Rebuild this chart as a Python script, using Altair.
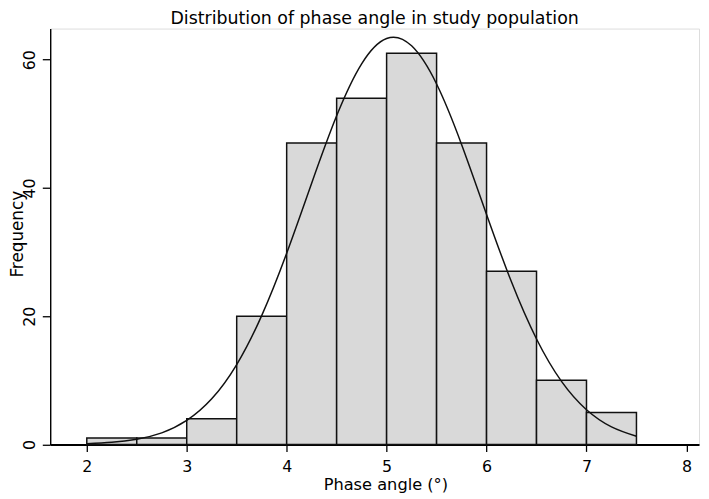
import altair as alt
import pandas as pd

# Histogram data (bin edges of width 0.5)
bin_start = [2.0, 2.5, 3.0, 3.5, 4.0, 4.5, 5.0, 5.5, 6.0, 6.5, 7.0]
bin_end = [2.5, 3.0, 3.5, 4.0, 4.5, 5.0, 5.5, 6.0, 6.5, 7.0, 7.5]
counts = [1, 1, 4, 20, 47, 54, 61, 47, 27, 10, 5]

# Overlaid normal curve
curve_x = [2.0, 2.25, 2.5, 2.75, 3.0, 3.25, 3.5, 3.75, 4.0, 4.25, 4.5, 4.75,
           5.0, 5.25, 5.5, 5.75, 6.0, 6.25, 6.5, 6.75, 7.0, 7.25, 7.5]
curve_y = [0.13, 0.33, 0.81, 1.81, 3.75, 7.12, 12.46, 20.09, 29.82, 40.74, 51.25, 59.36,
           63.31, 62.16, 56.21, 46.79, 35.87, 25.32, 16.45, 9.84, 5.42, 2.75, 1.28]

x_ticks = [2, 3, 4, 5, 6, 7, 8]
y_ticks = [0, 20, 40, 60]

title_text = "Distribution of phase angle in study population"
x_title = "Phase angle (°)"
y_title = "Frequency"

hist_df = pd.DataFrame({"start": bin_start, "end": bin_end, "count": counts})
curve_df = pd.DataFrame({"x": curve_x, "y": curve_y})
title_df = pd.DataFrame({"t": [title_text]})

FONT = "DejaVu Sans"
W = 656.3
H = 420.7

x_scale = alt.Scale(domain=[1.634, 8.126], nice=False, zero=False)
y_scale = alt.Scale(domain=[0, 64.85], nice=False, zero=True)

x_axis = alt.Axis(values=x_ticks, format="d", title=x_title, grid=False, tickSize=7,
                  labelPadding=7.2, labelFontSize=16, labelFont=FONT,
                  labelBaseline="top", labelColor="black", tickColor="black",
                  domainColor="black", domainWidth=2, tickWidth=1.3,
                  titleFont=FONT, titleFontSize=16.4, titleFontWeight="normal",
                  titleColor="black", titleX=339, titleY=46,
                  titleBaseline="alphabetic", titleAlign="center",
                  labelFlush=False, labelOverlap=False)
y_axis = alt.Axis(values=y_ticks, format="d", title=y_title, grid=False, tickSize=8,
                  labelPadding=4.5, labelFontSize=16, labelFont=FONT,
                  labelAngle=270, labelAlign="center", labelBaseline="bottom",
                  labelColor="black", tickColor="black", domainColor="black",
                  domainWidth=1.4, tickWidth=1.3,
                  titleFont=FONT, titleFontSize=17, titleFontWeight="normal",
                  titleColor="black", titleAngle=270, titleX=-27.6, titleY=207.5,
                  titleBaseline="alphabetic", titleAlign="center",
                  labelFlush=False, labelOverlap=False)

bars = alt.Chart(hist_df).mark_bar(
    fill="#d9d9d9", stroke="#111111", strokeWidth=1.5
).encode(
    x=alt.X("start:Q", scale=x_scale, axis=x_axis),
    x2="end:Q",
    y=alt.Y("count:Q", scale=y_scale, axis=y_axis),
    y2=alt.datum(0),
)

curve = alt.Chart(curve_df).mark_line(
    color="#111111", strokeWidth=1.5, interpolate="natural"
).encode(
    x=alt.X("x:Q", scale=x_scale),
    y=alt.Y("y:Q", scale=y_scale),
)

title = alt.Chart(title_df).mark_text(
    font=FONT, fontSize=17.6, color="black", align="center", baseline="alphabetic"
).encode(
    x=alt.value(W / 2),
    y=alt.value(-5),
    text="t:N",
)

chart = alt.layer(bars, curve, title).properties(
    width=W,
    height=H,
    padding={"left": 42.7, "top": 18, "right": 2, "bottom": 50},
    autosize=alt.AutoSizeParams(type="none"),
).configure_view(
    stroke="black", strokeWidth=1.4
).configure(
    background="white"
)

chart.save("out.html", embed_options={"renderer": "svg", "actions": False})
